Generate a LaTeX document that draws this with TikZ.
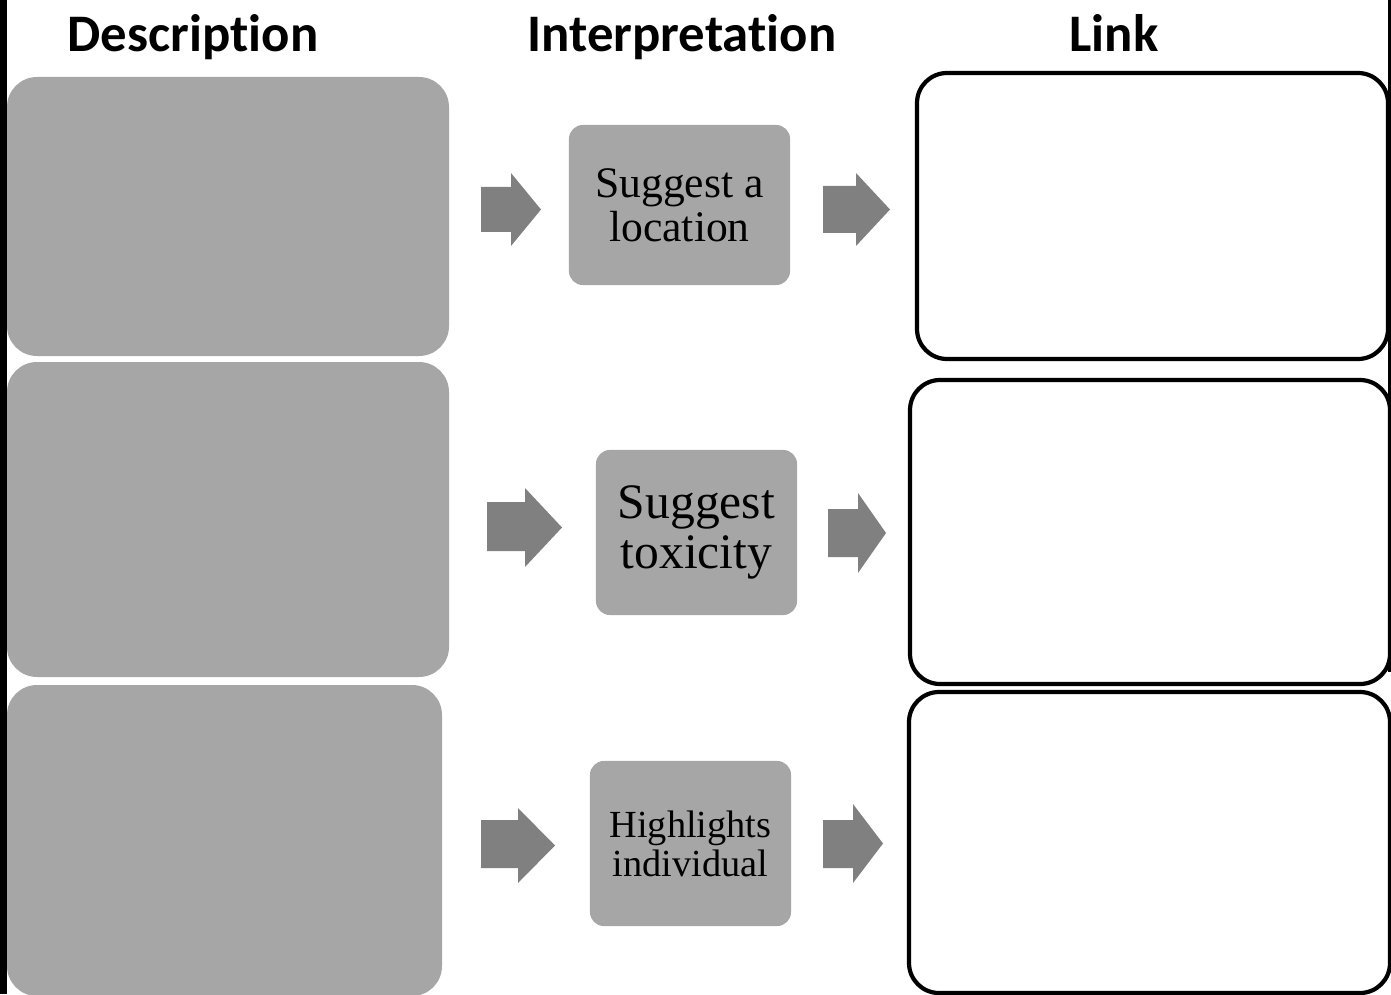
\documentclass[tikz,border=0pt]{standalone}
\usepackage{fontspec}
\setmainfont{Liberation Serif}
\newfontfamily\headfont[Ligatures=NoCommon]{Carlito}
\usetikzlibrary{calc}
\definecolor{boxgray}{HTML}{A6A6A6}
\definecolor{arrowgray}{HTML}{808080}
\def\blockarrow(#1,#2,#3)(#4,#5,#6)(#7){\fill[arrowgray] (#1,#2) -- (#4,#2) -- (#4,#5) -- (#7,{(#5+#6)/2}) -- (#4,#6) -- (#4,#3) -- (#1,#3) -- cycle;}

\begin{document}
\begin{tikzpicture}[x=0.01cm, y=-0.01cm,
	heading/.style={font=\headfont\bfseries\fontsize{15}{18}\selectfont, anchor=base},
	interp/.style={fill=boxgray, rounded corners=0.14cm, inner sep=0pt, align=center},
	descbox/.style={fill=boxgray, rounded corners=0.3cm},
	linkbox/.style={draw=black, line width=1.2pt, rounded corners=0.3cm}]
		%%%%% START %%%%%
		\useasboundingbox (0, 0) rectangle (1391, 994);
		\clip (0, 0) rectangle (1391, 994);
		
		\node[heading] (hdesc) at (193, 52) {Description};
		\node[heading] (hinterp) at (682, 52) {Interpretation};
		\node[heading] (hlink) at (1114, 52) {Link};
		
		\fill[black] (0, 0) rectangle (7, 994);
		\draw[line width=0.6pt] (1389.5, 0) -- (1389.5, 672);
		
		\fill[descbox] (7, 77) rectangle (449, 356);
		\fill[descbox] (7, 362) rectangle (449, 677);
		\fill[descbox] (7, 685) rectangle (442, 996);
		
		\node[interp, minimum width=2.21cm, minimum height=1.6cm,
			font=\fontsize{12.4}{12.6}\selectfont] (loc) at (679.5, 205) {Suggest a\\location};
		\node[interp, minimum width=2.01cm, minimum height=1.65cm,
			font=\fontsize{14.1}{14.3}\selectfont] (tox) at (696.5, 532.5) {Suggest\\toxicity};
		\node[interp, minimum width=2.01cm, minimum height=1.65cm,
			font=\fontsize{10.9}{11.1}\selectfont] (indiv) at (690.5, 843.5) {Highlights\\individual};
		
		\blockarrow(481,187,232)(511,173,246)(541)
		\blockarrow(823,186,233)(856,173,246)(890)
		\blockarrow(487,502,551)(525,488,567)(562)
		\blockarrow(828,509,557)(858,493,573)(886)
		\blockarrow(481,820,868)(518,808,883)(555)
		\blockarrow(823,820,868)(853,804,883)(883)
		
		\draw[linkbox] (917, 73) rectangle (1388, 359);
		\draw[linkbox] (910, 380) rectangle (1390, 684);
		\draw[linkbox] (909, 692) rectangle (1390, 993);
		
		%%%%% END %%%%%
	\end{tikzpicture}
\end{document}
